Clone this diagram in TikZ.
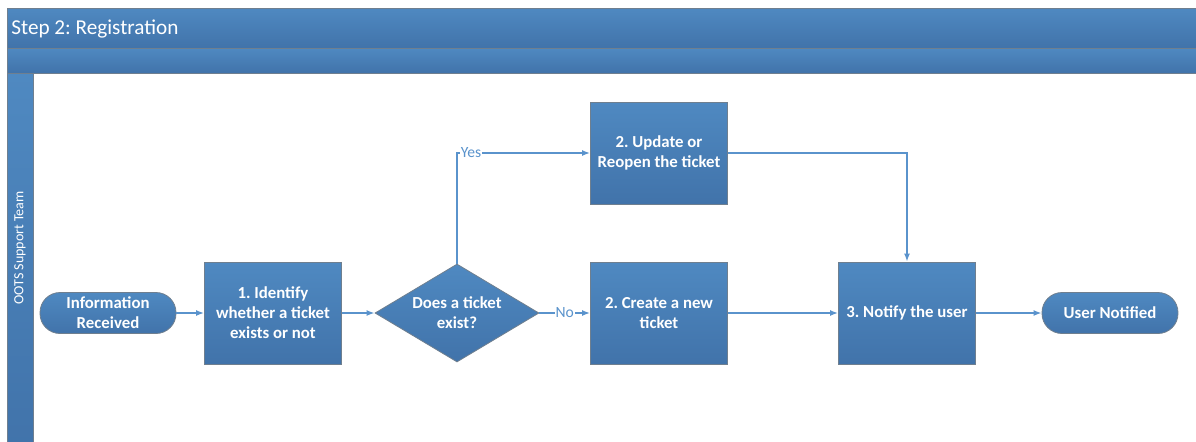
\documentclass[tikz,border=0pt]{standalone}
\usepackage{fontspec}
\setmainfont{Carlito}
\frenchspacing
\usetikzlibrary{shapes.geometric,arrows.meta}
\definecolor{bandtop}{HTML}{4F89C1}
\definecolor{bandbot}{HTML}{4173AA}
\definecolor{flowline}{HTML}{5A93CC}
\definecolor{rimgray}{HTML}{6F7F8F}

\begin{document}
\begin{tikzpicture}[x=0.5pt,y=-0.5pt,
  band/.style={draw=rimgray,top color=bandtop,bottom color=bandbot},
  block/.style={rectangle,draw=rimgray,top color=bandtop,bottom color=bandbot,text=white,
    font=\bfseries\fontsize{8.4}{10}\selectfont,align=center,
    minimum width=68.5pt,minimum height=51pt,inner sep=1pt},
  term/.style={block,rounded corners=10pt,minimum width=68pt,minimum height=20.5pt},
  decide/.style={block,diamond,aspect=1.67,minimum width=82pt,minimum height=49pt,inner sep=0pt},
  flow/.style={draw=flowline,line width=0.8pt,-{Latex[length=4pt,width=3pt]}},
  answer/.style={text=flowline,font=\fontsize{7.8}{9}\selectfont,fill=white,inner sep=0.5pt}]
\def\rowY{313}
\useasboundingbox (0,0) rectangle (1196,441);
% pool header and lane
\path[band] (7,8) rectangle (1205,48);
\path[band] (7,48) rectangle (1205,73);
\path[band] (7,73) rectangle (33,450);
\node[anchor=west,text=white,font=\fontsize{10.6}{12}\selectfont,inner sep=1pt] (title) at (9,29) {Step 2: Registration};
\node[rotate=90,text=white,font=\fontsize{7}{8}\selectfont] (lane) at (20,248) {OOTS Support Team};

\node[term] (received) at (108,\rowY) {Information\\Received};
\node[block] (identify) at (273,\rowY) {1. Identify\\whether a ticket\\exists or not};
\node[decide] (exists) at (457,\rowY) {Does a ticket\\exist?};
\node[block] (update) at (659,153) {2. Update or\\Reopen the ticket};
\node[block] (create) at (659,\rowY) {2. Create a new\\ticket};
\node[block] (notify) at (907,\rowY) {3. Notify the user};
\node[term] (notified) at (1110,\rowY) {User Notified};

\draw[flow] (received) -- (identify);
\draw[flow] (identify) -- (exists);
\draw[flow] (exists.north) |- node[answer,pos=0.5,anchor=west,xshift=1pt] {Yes} (update);
\draw[flow] (exists) -- node[answer] {No} (create);
\draw[flow] (update.east) -| (notify.north);
\draw[flow] (create) -- (notify);
\draw[flow] (notify) -- (notified);
\end{tikzpicture}
\end{document}
